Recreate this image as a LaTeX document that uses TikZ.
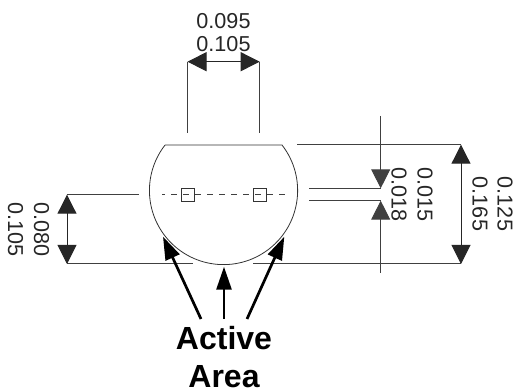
\documentclass[tikz,border=0pt]{standalone}
\usepackage{fontspec}
\setmainfont{Liberation Sans}
\usetikzlibrary{arrows.meta}

\tikzset{
  dimline/.style={draw=black!75, line width=1pt},
  dimarrow/.style={draw=black!85, line width=1pt, {Triangle[length=19pt,width=19pt]}-{Triangle[length=19pt,width=19pt]}},
  gaparrow/.style={draw=black!75, line width=1pt, -{Triangle[length=19pt,width=19pt]}},
  bigarrow/.style={draw=black, line width=2.7pt, -{Triangle[length=23pt,width=15pt]}},
  dimtext/.style={font=\fontsize{21.6}{21.6}\selectfont, text=black!85, inner sep=0pt, align=center},
  padbox/.style={draw=black!80, line width=.7pt, minimum size=13pt, inner sep=0pt}
}

\begin{document}
\begin{tikzpicture}[x=1pt, y=-1pt]
      \useasboundingbox (0,0) rectangle (515,390);

      % top dimension
      \coordinate (topl) at (187.5,61.7);
      \coordinate (topr) at (259.7,61.7);
      \coordinate (topl2) at (187.5,133);
      \coordinate (topr2) at (259.7,133);
      \draw[dimline] (topl) -- (topl2);
      \draw[dimline] (topr) -- (topr2);
      \draw[dimarrow] (topl) -- (topr);
      \node[dimtext] (wmin) at (223.5,21) {0.095};
      \node[dimtext] (wmax) at (223.5,44.5) {0.105};

      % body
      \coordinate (flatl) at (165,145);
      \coordinate (flatr) at (282,145);
      \draw[line width=.8pt, black!80] (flatl) -- (flatr)
        arc[start angle=-37.9, end angle=217.9, radius=74.1];

      % pads and centre line
      \coordinate (cl) at (162,194.7);
      \coordinate (cr) at (285,194.7);
      \draw[black!75, line width=.8pt, dash pattern=on 6pt off 6pt, dash phase=3pt] (cl) -- (cr);
      \node[padbox] (padl) at (187.5,194.7) {};
      \node[padbox] (padr) at (259.7,194.7) {};

      % right dimensions
      \coordinate (rt) at (297,144.7);
      \coordinate (rta) at (461,144.7);
      \coordinate (rba) at (461,264);
      \coordinate (lbb) at (67,264);
      \coordinate (lbe) at (193,264);
      \coordinate (rbb) at (253,264);
      \draw[dimline] (rt) -- (rta);
      \draw[dimline] (rbb) -- (rba);
      \draw[dimline] (lbb) -- (lbe);
      \draw[dimarrow] (rta) -- (rba);
      \node[dimtext, rotate=-90] (hmin) at (505,204) {0.125};
      \node[dimtext, rotate=-90] (hmax) at (480,204) {0.165};

      % gap dimension
      \coordinate (gu) at (380.7,116);
      \coordinate (gt) at (380.7,188.3);
      \coordinate (gb) at (380.7,200.7);
      \coordinate (gd) at (380.7,272.7);
      \coordinate (gtl) at (309,188.3);
      \coordinate (gbl) at (309,200.7);
      \draw[dimline] (gtl) -- (gt);
      \draw[dimline] (gbl) -- (gb);
      \draw[gaparrow] (gu) -- (gt);
      \draw[gaparrow] (gd) -- (gb);
      \node[dimtext, rotate=-90] (gmin) at (425,194.5) {0.015};
      \node[dimtext, rotate=-90] (gmax) at (399,194.5) {0.018};

      % left dimension
      \coordinate (lt) at (67,194.7);
      \coordinate (lte) at (139,194.7);
      \draw[dimline] (lt) -- (lte);
      \draw[dimarrow] (lt) -- (lbb);
      \node[dimtext, rotate=-90] (dmin) at (41.5,229.5) {0.080};
      \node[dimtext, rotate=-90] (dmax) at (15.5,229.5) {0.105};

      % active area
      \node[font=\fontsize{32}{38.5}\selectfont\bfseries, inner sep=0pt, align=center] (area) at (224,357) {Active\\Area};
      \coordinate (al) at (201,319);
      \coordinate (am) at (224,319);
      \coordinate (ar) at (247,319);
      \coordinate (tl) at (163,236.7);
      \coordinate (tm) at (224,266.7);
      \coordinate (tr) at (284.3,236.7);
      \draw[bigarrow] (al) -- (tl);
      \draw[bigarrow] (am) -- (tm);
      \draw[bigarrow] (ar) -- (tr);
\end{tikzpicture}
\end{document}
